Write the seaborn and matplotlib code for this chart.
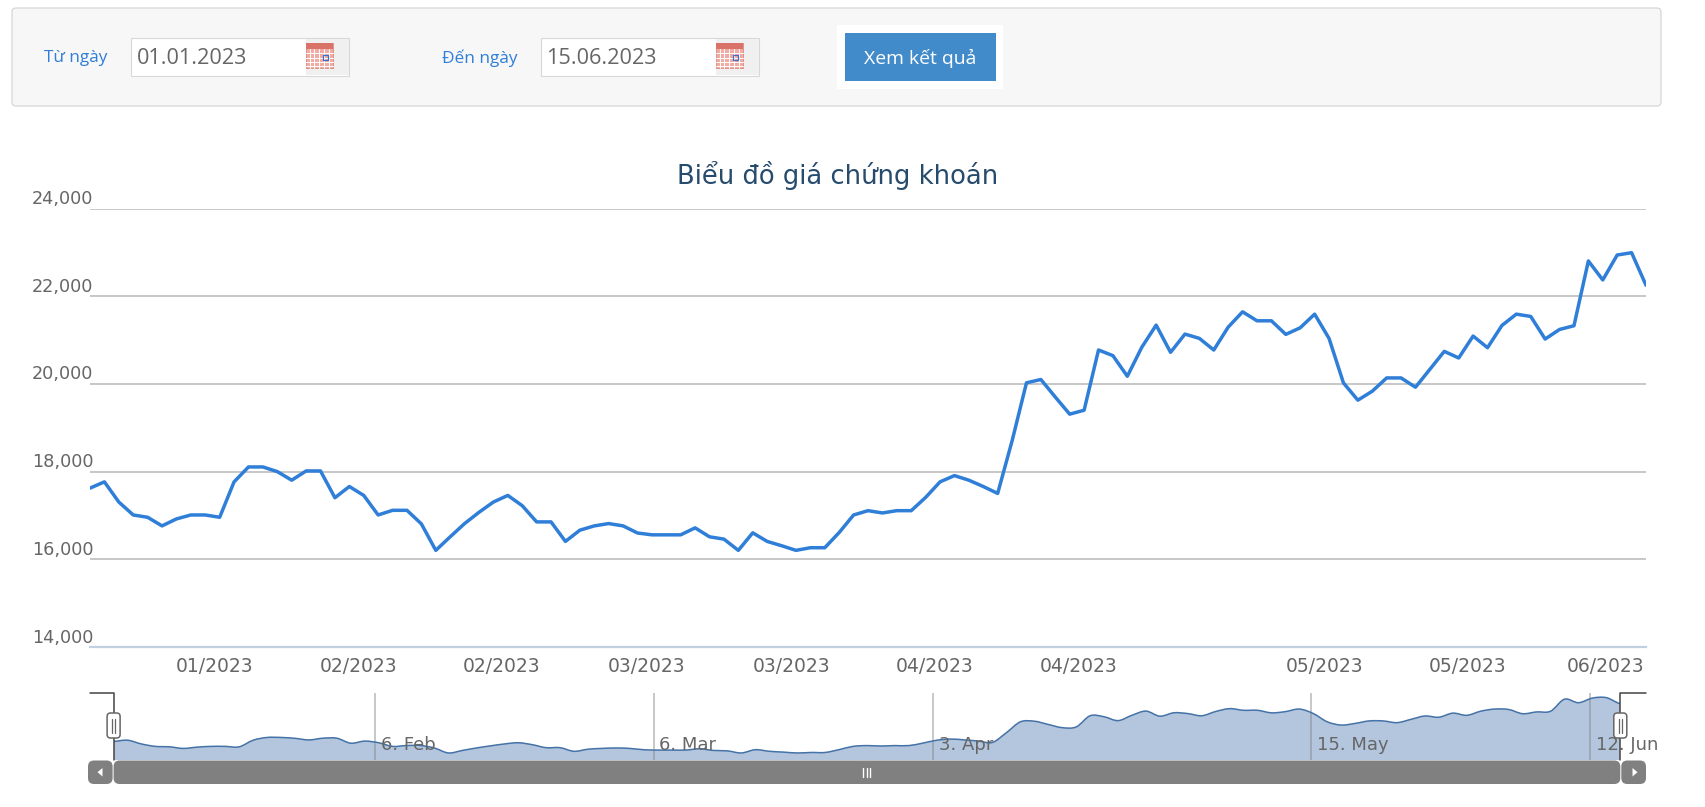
import matplotlib
matplotlib.use("Agg")
import matplotlib.pyplot as plt
import numpy as np
import pandas as pd
import seaborn as sns
from matplotlib.patches import FancyBboxPatch, Rectangle, Polygon, PathPatch
from matplotlib.path import Path
from matplotlib.transforms import ScaledTranslation

# ---- data ----
prices = [17623, 17766, 17306, 17011, 16958, 16762, 16921, 17011, 17011, 16958,
          17766, 18106, 18106, 18000, 17804, 18015, 18015, 17404, 17660, 17457,
          17011, 17117, 17117, 16808, 16204, 16513, 16815, 17072, 17306, 17457,
          17223, 16853, 16853, 16408, 16664, 16762, 16815, 16762, 16600,
          16558, 16558, 16558, 16717, 16513, 16460, 16204, 16604, 16408, 16310,
          16204, 16264, 16264, 16611, 17011, 17109, 17057, 17109, 17109, 17411,
          17766, 17909, 17804, 17660, 17502,
          18700, 20025, 20100, 19700, 19310, 19400,
          20773, 20644, 20174, 20833, 21341, 20720, 21136, 21038, 20773, 21295,
          21644, 21439, 21439, 21129, 21280, 21591, 21038, 20023, 19629, 19833,
          20136, 20136, 19924, 20333, 20742, 20591, 21091, 20826, 21333, 21591,
          21538, 21023, 21242, 21326, 22803, 22371, 22939, 22992, 22250]
y_ticks = [14000, 16000, 18000, 20000, 22000, 24000]
y_labels = ["14,000", "16,000", "18,000", "20,000", "22,000", "24,000"]
x_tick_pos = [8.68, 18.64, 28.6, 38.6, 48.7, 58.6, 68.6, 85.7, 95.6, 105.7]
x_labels = ["01/2023", "02/2023", "02/2023", "03/2023", "03/2023",
            "04/2023", "04/2023", "05/2023", "05/2023", "06/2023"]
nav_pos = [18.74, 38.7, 58.75, 85.84, 105.84]
nav_labels = ["6. Feb", "6. Mar", "3. Apr", "15. May", "12. Jun"]
title = "Biểu đồ giá chứng khoán"
from_label, to_label = "Từ ngày", "Đến ngày"
from_date, to_date = "01.01.2023", "15.06.2023"
button_label = "Xem kết quả"

W, H = 1705, 807
sns.set_theme(style="white")
plt.rcParams["font.family"] = ["DejaVu Sans"]
PX = 0.72
fig = plt.figure(figsize=(W / 100, H / 100), dpi=100, facecolor="white")
df = pd.DataFrame({"i": np.arange(len(prices)), "price": prices})


def axes_px(x0, y0, x1, y1, **kw):
    return fig.add_axes([x0 / W, 1 - y1 / H, (x1 - x0) / W, (y1 - y0) / H], **kw)


# ---- main chart ----
ax = axes_px(90, 208.5, 1646, 647)
ax.set_facecolor("none")
sns.lineplot(data=df, x="i", y="price", ax=ax, color="#2F7ED8", linewidth=2.5, zorder=4)
ax.set_xlim(0, len(prices) - 1)
ax.set_ylim(14000, 24000)
ax.set_xlabel("")
ax.set_ylabel("")
ax.set_yticks(y_ticks)
ax.set_yticklabels(y_labels, va="bottom", ha="right")
ax.set_xticks(x_tick_pos)
ax.set_xticklabels(x_labels)
ax.yaxis.grid(True, color="#BDBDBD", linewidth=1.2)
ax.xaxis.grid(False)
for s in ["top", "left", "right"]:
    ax.spines[s].set_visible(False)
ax.spines["bottom"].set_color("#C0D0E0")
ax.spines["bottom"].set_linewidth(1.6)
ax.tick_params(axis="y", length=0, pad=-2.5, labelcolor="#666666", labelsize=17.6 * PX)
ax.tick_params(axis="x", length=7, width=1, color="#C0D0E0", pad=0,
               labelcolor="#666666", labelsize=18.8 * PX)
shift = ScaledTranslation(0, 0.3 / 72, fig.dpi_scale_trans)
for lab in ax.get_yticklabels():
    lab.set_transform(lab.get_transform() + shift)
last_lab = ax.get_xticklabels()[-1]
last_lab.set_transform(last_lab.get_transform() + ScaledTranslation(-5.5 / 72, 0, fig.dpi_scale_trans))

# ---- navigator: the same series, drawn with a smoothed spline path ----
nav = axes_px(113.6, 692.7, 1620.3, 760)
nav.set_facecolor("none")
base = 15340
xs = df["i"].to_numpy(float)
ys = df["price"].to_numpy(float)
verts = [(xs[0], ys[0])]
for k in range(len(xs) - 1):
    y0 = ys[max(k - 1, 0)]
    y3 = ys[min(k + 2, len(ys) - 1)]
    verts += [(xs[k] + 1 / 3, ys[k] + (ys[k + 1] - y0) / 6),
              (xs[k + 1] - 1 / 3, ys[k + 1] - (y3 - ys[k]) / 6),
              (xs[k + 1], ys[k + 1])]
codes = [Path.MOVETO] + [Path.CURVE4] * (len(verts) - 1)
fill_verts = verts + [(xs[-1], base), (xs[0], base), verts[0]]
fill_codes = codes + [Path.LINETO, Path.LINETO, Path.CLOSEPOLY]
nav.add_patch(PathPatch(Path(fill_verts, fill_codes), fc="#B3C6DE", ec="none", zorder=1))
nav.add_patch(PathPatch(Path(verts, codes), fc="none", ec="#4572A7", lw=1.1, zorder=3))
nav.set_xlim(0, len(prices) - 1)
nav.set_ylim(base, 23600)
nav.set_xlabel("")
nav.set_ylabel("")
nav.set_xticks([])
nav.set_yticks([])
for s in nav.spines.values():
    s.set_visible(False)
for p, t in zip(nav_pos, nav_labels):
    nav.axvline(p, color="#808080", alpha=0.5, linewidth=1.2, zorder=2)
    nav.annotate(t, xy=(p, 0), xycoords=nav.get_xaxis_transform(), xytext=(4.2, 14.5 * 0.72 + 0.3),
                 textcoords="offset points", ha="left", va="center", color="#666666",
                 fontsize=18 * PX, annotation_clip=False, zorder=5)

# ---- page furniture, in pixel coordinates ----
ov = axes_px(0, 0, W, H, zorder=5)
ov.set_xlim(0, W)
ov.set_ylim(H, 0)
ov.axis("off")
ov.patch.set_alpha(0)


def rrect(x0, y0, x1, y1, r, fc, ec="none", lw=0.0, z=2):
    ov.add_patch(FancyBboxPatch((x0 + r, y0 + r), x1 - x0 - 2 * r, y1 - y0 - 2 * r,
                                boxstyle=f"round,pad={r},rounding_size={r}",
                                fc=fc, ec=ec, lw=lw, zorder=z))


rrect(12, 8, 1661, 106, 4, "#F7F7F7", "#D2D2D2", 0.8, 1)


def date_box(x0, x1, icon0, text):
    ov.add_patch(Rectangle((x0, 38), x1 - x0, 37.5, fc="white", ec="#D8D8D8", lw=0.8, zorder=2))
    ov.add_patch(Rectangle((icon0, 38.5), x1 - icon0 - 0.5, 36.5, fc="#F0F0F0", ec="none", zorder=3))
    ic1 = icon0 + 27.2
    ov.add_patch(Rectangle((icon0, 43), 27.2, 25, fc="#F2ABA3", ec="#D98A80", lw=0.6, zorder=4))
    ov.add_patch(Rectangle((icon0, 43), 27.2, 6, fc="#D9736A", ec="none", zorder=5))
    for gx in np.linspace(icon0 + 4, ic1 - 4, 5):
        ov.plot([gx, gx], [49, 68], color="white", lw=0.7, zorder=5)
    for gy in [53, 57.5, 62, 66]:
        ov.plot([icon0, ic1], [gy, gy], color="white", lw=0.7, zorder=5)
    ov.add_patch(Rectangle((icon0 + 17, 55), 5, 5, fc="none", ec="#3B6FD0", lw=0.9, zorder=6))
    ov.text(x0 + 6, 58, text, color="#666666", fontsize=21.6 * PX, va="center", ha="left",
            family="Open Sans", zorder=6)


date_box(130.5, 349, 305.5, from_date)
date_box(540.5, 759, 715.5, to_date)
ov.text(75.5, 58, from_label, color="#2F7ED8", fontsize=17.2 * PX, ha="center", va="center", family="Open Sans")
ov.text(480, 58, to_label, color="#2F7ED8", fontsize=17.2 * PX, ha="center", va="center", family="Open Sans")
ov.add_patch(Rectangle((837, 25), 166, 63.7, fc="white", ec="none", zorder=2))
ov.add_patch(Rectangle((845, 33), 151, 48, fc="#428BCA", ec="none", zorder=3))
ov.text(920.5, 58, button_label, color="white", fontsize=19.4 * PX, ha="center", va="center",
        family="Open Sans", zorder=4)
ov.text(838, 175, title, color="#274B6D", fontsize=25.9 * PX, ha="center", va="center")

# navigator outline, handles, scrollbar
ov.plot([90, 113.6, 113.6], [692.7, 692.7, 760], color="#444444", lw=1.1, zorder=6)
ov.plot([1646, 1620.3, 1620.3], [692.7, 692.7, 760], color="#444444", lw=1.1, zorder=6)
for hx in [113.6, 1620.3]:
    rrect(hx - 6.5, 713, hx + 6.5, 738, 3.5, "white", "#666666", 1.1, 7)
    for d in (-1.6, 1.6):
        ov.plot([hx + d, hx + d], [718.5, 732.5], color="#666666", lw=0.9, zorder=8)
rrect(113.6, 760.5, 1620.3, 784, 6, "#808080", z=4)
rrect(88, 760.5, 112.6, 784, 6, "#808080", z=4)
rrect(1621.3, 760.5, 1646, 784, 6, "#808080", z=4)
ov.add_patch(Polygon([[102.5, 768], [102.5, 776.5], [97.5, 772.2]], fc="white", ec="none", zorder=5))
ov.add_patch(Polygon([[1632.5, 768], [1632.5, 776.5], [1637.5, 772.2]], fc="white", ec="none", zorder=5))
for d in (-3.3, 0, 3.3):
    ov.plot([866.5 + d, 866.5 + d], [768, 776.5], color="white", lw=1.0, zorder=5)

fig.savefig("out.png", dpi=100)
